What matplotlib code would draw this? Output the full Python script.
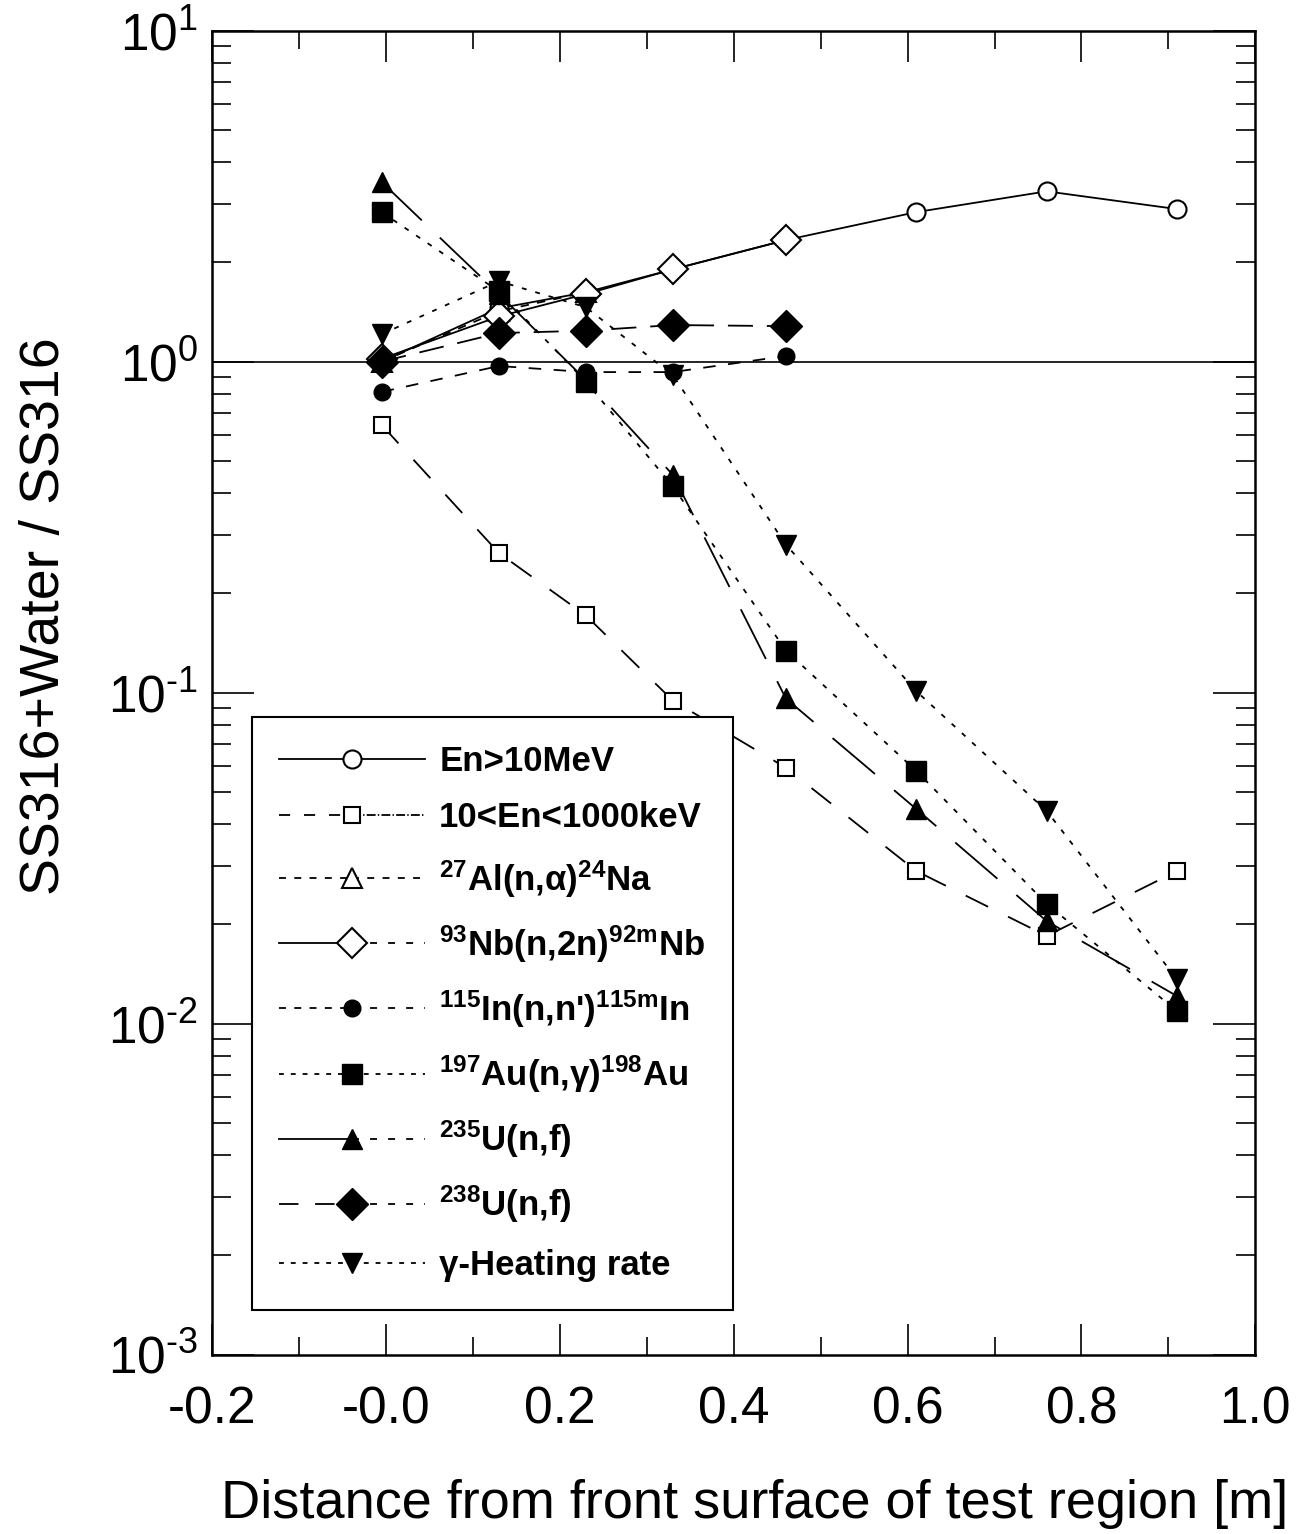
import matplotlib
matplotlib.use('Agg')
import matplotlib.pyplot as plt
from matplotlib.lines import Line2D
from matplotlib.legend_handler import HandlerBase

plt.rcParams['font.family'] = ['Liberation Sans', 'DejaVu Sans']
plt.rcParams['lines.scale_dashes'] = False

# distance from front surface [m]
dist = [-0.005, 0.13, 0.23, 0.33, 0.46, 0.61, 0.76, 0.91]

# ratio SS316+Water / SS316
en_fast = [1.0, 1.45, 1.62, 1.9, 2.33, 2.83, 3.27, 2.89]
en_epi = [0.644, 0.264, 0.171, 0.0946, 0.0593, 0.0289, 0.0184, 0.0289]
al27 = [1.0, 1.42, 1.62]
nb93 = [1.02, 1.37, 1.6, 1.9, 2.33]
in115 = [0.81, 0.97, 0.93, 0.93, 1.04]
au197 = [2.83, 1.63, 0.87, 0.42, 0.134, 0.058, 0.023, 0.0109]
u235 = [3.49, 1.6, 0.88, 0.455, 0.096, 0.0445, 0.0204, 0.0121]
u238 = [1.0, 1.22, 1.24, 1.29, 1.28]
gamma_heat = [1.21, 1.75, 1.46, 0.91, 0.28, 0.101, 0.0439, 0.0136]

labels = ['En>10MeV', '10<En<1000keV',
          r'$\mathregular{^{27}}$Al(n,α)$\mathregular{^{24}}$Na',
          r'$\mathregular{^{93}}$Nb(n,2n)$\mathregular{^{92m}}$Nb',
          r"$\mathregular{^{115}}$In(n,n')$\mathregular{^{115m}}$In",
          r'$\mathregular{^{197}}$Au(n,γ)$\mathregular{^{198}}$Au',
          r'$\mathregular{^{235}}$U(n,f)',
          r'$\mathregular{^{238}}$U(n,f)',
          'γ-Heating rate']

xticks = [-0.2, 0.0, 0.2, 0.4, 0.6, 0.8, 1.0]
xtick_labels = ['-0.2', '-0.0', '0.2', '0.4', '0.6', '0.8', '1.0']
yticks = [1e-3, 1e-2, 1e-1, 1e0, 1e1]
ytick_labels = ['10$\\mathregular{^{\u20103}}$', '10$\\mathregular{^{\u20102}}$',
                '10$\\mathregular{^{\u20101}}$', '10$\\mathregular{^{0}}$',
                '10$\\mathregular{^{1}}$']


class SplitHandler(HandlerBase):
    # legend line drawn with one style left of the marker, another right of it
    def __init__(self, left_ls, right_ls):
        super().__init__()
        self.left_ls = left_ls
        self.right_ls = right_ls

    def create_artists(self, legend, orig, xdescent, ydescent, width, height,
                       fontsize, trans):
        y = height / 2 - ydescent
        x0 = -xdescent
        xm = x0 + width / 2
        x1 = x0 + width
        lw = orig.get_linewidth()
        left = Line2D([x0, xm], [y, y], color='black', lw=lw, linestyle=self.left_ls)
        right = Line2D([xm, x1], [y, y], color='black', lw=lw, linestyle=self.right_ls)
        mk = Line2D([xm], [y], linestyle='None', marker=orig.get_marker(),
                    markersize=orig.get_markersize(),
                    markerfacecolor=orig.get_markerfacecolor(),
                    markeredgecolor=orig.get_markeredgecolor(),
                    markeredgewidth=orig.get_markeredgewidth())
        for a in (left, right, mk):
            a.set_transform(trans)
        return [left, right, mk]


fig = plt.figure(figsize=(13.09, 15.34), dpi=100)
ax = fig.add_axes([0.162, 0.117, 0.797, 0.863])

lw = 1.3
k = 'black'
ax.axhline(1.0, color=k, lw=1.2, zorder=1)

h1, = ax.plot(dist, en_fast, color=k, lw=lw, ls='-', marker='o', ms=13,
              mfc='white', mec=k, mew=1.5, zorder=3)
h2, = ax.plot(dist, en_epi, color=k, lw=lw, ls=(0, (18, 16)), marker='s', ms=12,
              mfc='white', mec=k, mew=1.5, zorder=3)
h3, = ax.plot(dist[:3], al27, color=k, lw=lw, ls=(0, (6, 6)), marker='^', ms=14,
              mfc='white', mec=k, mew=1.5, zorder=3)
h4, = ax.plot(dist[:5], nb93, color=k, lw=lw, ls='-', marker='D', ms=15,
              mfc='white', mec=k, mew=1.5, zorder=4)
h5, = ax.plot(dist[:5], in115, color=k, lw=lw, ls=(0, (9, 9)), marker='o', ms=12,
              mfc=k, mec=k, zorder=5)
h6, = ax.plot(dist, au197, color=k, lw=lw, ls=(0, (3.5, 6.5)), marker='s', ms=14,
              mfc=k, mec=k, zorder=5)
h7, = ax.plot(dist, u235, color=k, lw=lw, ls=(0, (40, 18)), marker='^', ms=15,
              mfc=k, mec=k, zorder=5)
h8, = ax.plot(dist[:5], u238, color=k, lw=lw, ls=(0, (18, 10)), marker='D', ms=16,
              mfc=k, mec=k, zorder=5)
h9, = ax.plot(dist, gamma_heat, color=k, lw=lw, ls=(0, (3.5, 6.5)), marker='v', ms=15,
              mfc=k, mec=k, zorder=5)

handles = [h1, h2, h3, h4, h5, h6, h7, h8, h9]
splits = [('-', '-'),
          ((0, (8, 10)), '-.'),
          ((0, (5, 6)), (0, (5, 6))),
          ('-', (0, (5, 8))),
          ((0, (5, 6)), (0, (5, 8))),
          ((0, (3.5, 5)), (0, (3.5, 5))),
          ('-', (0, (5, 8))),
          ((0, (14, 12)), (0, (5, 8))),
          ((0, (3.5, 5)), (0, (3.5, 5)))]
hmap = {h: SplitHandler(a, b) for h, (a, b) in zip(handles, splits)}

leg = ax.legend(handles, labels, handler_map=hmap, loc='lower left',
                bbox_to_anchor=(0.038, 0.034), borderaxespad=0,
                prop={'family': 'Liberation Sans', 'weight': 'bold', 'size': 25},
                handlelength=4.2, handletextpad=0.4, labelspacing=0.68,
                borderpad=0.8, fancybox=False, framealpha=1, edgecolor=k)
leg.get_frame().set_linewidth(1.5)

ax.set_yscale('log')
ax.set_xlim(-0.2, 1.0)
ax.set_ylim(1e-3, 10)
ax.set_xticks(xticks, xtick_labels)
ax.set_xticks([-0.1, 0.1, 0.3, 0.5, 0.7, 0.9], minor=True)
ax.set_yticks(yticks, ytick_labels)

ax.tick_params(which='both', direction='in', top=True, right=True, width=1.2,
               labelsize=37, colors=k)
ax.tick_params(axis='y', which='major', length=30, pad=10)
ax.tick_params(axis='y', which='minor', length=14)
ax.tick_params(axis='x', which='major', length=22, pad=22)
ax.tick_params(axis='x', which='minor', length=13)
for s in ax.spines.values():
    s.set_linewidth(1.8)

ax.set_xlabel('Distance from front surface of test region [m]', fontsize=39, va='center')
ax.xaxis.set_label_coords(0.52, -0.113)
ax.set_ylabel('SS316+Water / SS316', fontsize=40, va='center')
ax.yaxis.set_label_coords(-0.16, 0.558)

fig.savefig('out.png', dpi=100)
